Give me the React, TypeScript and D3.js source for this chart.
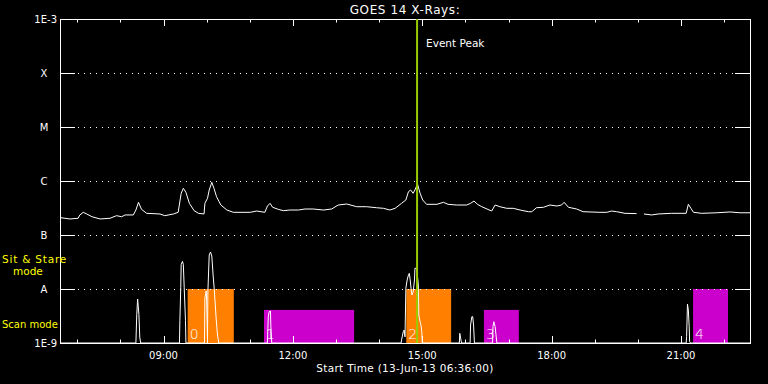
import React from "react";
import * as d3 from "d3";

// ---- data ----
const goesTime = [6.62, 6.83, 7.02, 7.06, 7.14, 7.22, 7.34, 7.53, 7.76, 7.91, 8.03, 8.11, 8.30, 8.36, 8.42, 8.49, 8.61, 8.92, 9.03, 9.23, 9.34, 9.41, 9.46, 9.52, 9.60, 9.71, 9.81, 9.94, 9.96, 10.02, 10.06, 10.12, 10.17, 10.23, 10.33, 10.47, 10.62, 11.01, 11.16, 11.35, 11.41, 11.47, 11.53, 11.66, 11.78, 11.93, 12.13, 12.28, 12.47, 12.71, 12.90, 13.05, 13.25, 13.48, 13.71, 13.94, 14.10, 14.25, 14.37, 14.52, 14.62, 14.68, 14.73, 14.79, 14.83, 14.89, 14.95, 15.01, 15.10, 15.34, 15.49, 15.60, 15.80, 16.03, 16.12, 16.20, 16.28, 16.38, 16.61, 16.69, 16.80, 16.96, 17.11, 17.27, 17.46, 17.54, 17.65, 17.81, 17.96, 18.12, 18.23, 18.29, 18.39, 18.58, 18.73, 19.12, 19.28, 19.39, 19.51, 19.70, 19.97, 20.05, 20.14, 20.32, 20.47, 20.78, 21.12, 21.17, 21.23, 21.29, 21.48, 21.83, 22.14, 22.37, 22.60];
const goesFlux: (number | null)[] = [2.09e-7, 1.98e-7, 2.04e-7, 2.35e-7, 2.63e-7, 2.45e-7, 2.18e-7, 1.98e-7, 2.04e-7, 2.28e-7, 2.18e-7, 2.35e-7, 2.35e-7, 2.90e-7, 4.03e-7, 2.99e-7, 2.52e-7, 2.45e-7, 2.28e-7, 2.45e-7, 2.63e-7, 5.92e-7, 7.32e-7, 6.18e-7, 3.86e-7, 2.82e-7, 2.52e-7, 2.45e-7, 3.86e-7, 4.78e-7, 6.81e-7, 9.46e-7, 7.32e-7, 5.12e-7, 3.59e-7, 2.90e-7, 2.63e-7, 2.63e-7, 2.78e-7, 2.63e-7, 3.44e-7, 3.86e-7, 3.26e-7, 2.99e-7, 2.82e-7, 2.90e-7, 2.90e-7, 3.03e-7, 3.03e-7, 2.90e-7, 3.03e-7, 3.59e-7, 3.75e-7, 3.34e-7, 3.34e-7, 3.20e-7, 3.12e-7, 2.90e-7, 3.12e-7, 3.86e-7, 4.45e-7, 6.34e-7, 6.81e-7, 5.92e-7, 6.81e-7, 8.80e-7, 5.92e-7, 4.45e-7, 3.70e-7, 3.70e-7, 4.03e-7, 3.70e-7, 3.59e-7, 3.59e-7, 3.86e-7, 4.26e-7, 3.70e-7, 3.34e-7, 2.78e-7, 3.59e-7, 3.34e-7, 3.12e-7, 3.12e-7, 2.90e-7, 2.70e-7, 2.70e-7, 3.20e-7, 3.26e-7, 3.59e-7, 3.44e-7, 3.59e-7, 4.03e-7, 3.26e-7, 3.03e-7, 2.70e-7, 2.63e-7, 2.63e-7, 2.78e-7, 2.70e-7, 2.52e-7, 2.49e-7, null, 2.45e-7, 2.35e-7, 2.45e-7, 2.52e-7, 2.52e-7, 3.70e-7, 3.12e-7, 2.63e-7, 2.52e-7, 2.58e-7, 2.67e-7, 2.58e-7, 2.58e-7];

const derivTime = [6.60, 8.36, 8.38, 8.40, 8.43, 8.45, 8.47, 9.37, 9.38, 9.40, 9.41, 9.44, 9.46, 9.48, 9.51, 9.52, 9.95, 9.96, 9.99, 10.00, 10.02, 10.03, 10.06, 10.09, 10.12, 10.15, 10.18, 10.22, 10.25, 10.28, 11.41, 11.42, 11.43, 11.45, 11.48, 11.49, 11.51, 14.51, 14.52, 14.56, 14.58, 14.60, 14.62, 14.65, 14.68, 14.70, 14.72, 14.74, 14.76, 14.79, 14.82, 14.83, 14.87, 14.91, 14.92, 14.95, 14.97, 14.99, 15.00, 15.86, 15.87, 15.89, 15.91, 16.11, 16.12, 16.15, 16.17, 16.19, 16.21, 16.63, 16.64, 16.66, 16.67, 16.69, 16.71, 16.73, 21.12, 21.13, 21.15, 21.17, 21.19, 21.20, 21.22, 22.60];
const derivValue = [1e-9, 1e-9, 3.34e-9, 6.53e-9, 3.34e-9, 1.29e-9, 1e-9, 1e-9, 2.59e-9, 1.07e-8, 2.82e-8, 3.26e-8, 2.82e-8, 1.07e-8, 2.59e-9, 1e-9, 1e-9, 6.81e-9, 9.18e-9, 6.25e-9, 1.14e-9, 9.18e-9, 4.26e-8, 4.84e-8, 4.08e-8, 1.82e-8, 9.18e-9, 2.90e-9, 1.47e-9, 1e-9, 1e-9, 1.87e-9, 3.07e-9, 3.80e-9, 3.91e-9, 2.00e-9, 1e-9, 1e-9, 1.14e-9, 1.62e-9, 1.74e-9, 1.3e-9, 1.03e-8, 1.47e-8, 1.82e-8, 1.95e-8, 1.47e-8, 1.03e-8, 7.74e-9, 8.91e-9, 1.47e-8, 2.42e-8, 2.42e-8, 1.19e-8, 3.30e-9, 2.48e-9, 2.15e-9, 1.62e-9, 1e-9, 1e-9, 1.51e-9, 1.24e-9, 1e-9, 1e-9, 2.15e-9, 3.07e-9, 3.07e-9, 2.15e-9, 1e-9, 1e-9, 2.00e-9, 2.48e-9, 2.32e-9, 2.00e-9, 1.41e-9, 1e-9, 1e-9, 1.31e-9, 5.27e-9, 4.08e-9, 2.00e-9, 1.06e-9, 1e-9, 1e-9];

const barStart = [9.56, 11.33, 14.63, 16.43, 21.28];
const barEnd = [10.63, 13.42, 15.67, 17.24, 22.09];
const barTop = [1e-8, 4.1e-9, 1e-8, 4.1e-9, 1e-8];
const barMode = ["stare", "scan", "stare", "scan", "scan"];
const barLabel = ["0", "1", "2", "3", "4"];

const yTickValues = [1e-9, 1e-8, 1e-7, 1e-6, 1e-5, 1e-4, 1e-3];
const yTickLabels = ["1E-9", "A", "B", "C", "M", "X", "1E-3"];
const xMajorHours = [9, 12, 15, 18, 21];
const xMajorLabels = ["09:00", "12:00", "15:00", "18:00", "21:00"];
const xMinorHours = [7, 8, 10, 11, 13, 14, 16, 17, 19, 20, 22];
const eventPeakHour = 14.88;

const title = "GOES 14 X-Rays:";
const xTitle = "Start Time (13-Jun-13 06:36:00)";

const W = 768, H = 384;
const L = 60, R = 750, T = 19, B = 343;
const FONT = "'DejaVu Sans', sans-serif";
const ORANGE = "#ff8000";
const MAGENTA = "#cc00cc";
const GREEN = "#99cc00";
const YELLOW = "#ffff00";

export default function App() {
  const x = d3.scaleLinear().domain([6.6, 22.6]).range([L, R]);
  const y = d3.scaleLog().domain([1e-9, 1e-3]).range([B, T]);

  const goesLine = d3
    .line<number>()
    .defined((i) => goesFlux[i] !== null)
    .x((i) => x(goesTime[i]))
    .y((i) => y(goesFlux[i] as number));
  const derivLine = d3
    .line<number>()
    .x((i) => x(derivTime[i]))
    .y((i) => y(Math.max(1e-9, derivValue[i])));

  const gridVals = yTickValues.slice(1, -1);
  const py = (v: number) => Math.round(y(v)) + 0.5;
  const px = (h: number) => Math.round(x(h)) + 0.5;

  return (
    <svg
      width={W}
      height={H}
      style={{ position: "fixed", left: 0, top: 0, background: "#000" }}
      fontFamily={FONT}
    >
      <rect x={0} y={0} width={W} height={H} fill="#000" />

      {/* bars */}
      {barStart.map((s, i) => (
        <rect
          key={"bar" + i}
          x={x(s)}
          y={y(barTop[i])}
          width={x(barEnd[i]) - x(s)}
          height={B - y(barTop[i])}
          fill={barMode[i] === "stare" ? ORANGE : MAGENTA}
        />
      ))}

      {/* dotted grid */}
      {gridVals.map((v, i) => (
        <line
          key={"g" + i}
          x1={L + 15}
          x2={R - 15}
          y1={py(v)}
          y2={py(v)}
          stroke="#fff"
          strokeWidth={1}
          strokeDasharray="1 5"
          strokeDashoffset={-3}
        />
      ))}

      {/* bar labels */}
      {barStart.map((s, i) => (
        <text
          key={"bl" + i}
          x={x(s) + 2}
          y={339}
          fill="#fff"
          fontWeight={200}
          fontSize={14}
        >
          {barLabel[i]}
        </text>
      ))}

      {/* curves */}
      <path
        d={derivLine(derivTime.map((_, i) => i)) || ""}
        fill="none"
        stroke="#fff"
        strokeWidth={1}
      />
      <path
        d={goesLine(goesTime.map((_, i) => i)) || ""}
        fill="none"
        stroke="#fff"
        strokeWidth={1}
      />

      {/* frame */}
      <rect x={L + 0.5} y={T + 0.5} width={R - L} height={B - T} fill="none" stroke="#fff" strokeWidth={1} />

      {/* y ticks */}
      {gridVals.map((v, i) => (
        <g key={"yt" + i}>
          <line x1={L} x2={L + 15} y1={py(v)} y2={py(v)} stroke="#fff" strokeWidth={1} />
          <line x1={R - 15} x2={R} y1={py(v)} y2={py(v)} stroke="#fff" strokeWidth={1} />
        </g>
      ))}
      {yTickValues.map((v, i) => {
        const lab = yTickLabels[i];
        const isNum = lab.length > 1;
        return (
          <text
            key={"yl" + i}
            x={isNum ? 57 : 44}
            y={y(v) + 4}
            fill="#fff"
            fontSize={10}
            textAnchor={isNum ? "end" : "middle"}
          >
            {lab}
          </text>
        );
      })}

      {/* x ticks */}
      {xMajorHours.map((h, i) => (
        <g key={"xM" + i}>
          <line x1={px(h)} x2={px(h)} y1={B} y2={B - 7} stroke="#fff" strokeWidth={1} />
          <line x1={px(h)} x2={px(h)} y1={T} y2={T + 7} stroke="#fff" strokeWidth={1} />
          <text x={x(h)} y={359} fill="#fff" fontSize={10} textAnchor="middle">
            {xMajorLabels[i]}
          </text>
        </g>
      ))}
      {xMinorHours.map((h, i) => (
        <g key={"xm" + i}>
          <line x1={px(h)} x2={px(h)} y1={B} y2={B - 3.5} stroke="#fff" strokeWidth={1} />
          <line x1={px(h)} x2={px(h)} y1={T} y2={T + 3.5} stroke="#fff" strokeWidth={1} />
        </g>
      ))}

      {/* event peak */}
      <line x1={x(eventPeakHour)} x2={x(eventPeakHour)} y1={T} y2={B} stroke={GREEN} strokeWidth={2} />
      <text x={x(eventPeakHour) + 9} y={47} fill="#fff" fontSize={10.5}>
        Event Peak
      </text>

      {/* titles */}
      <text x={(L + R) / 2} y={13.5} fill="#fff" fontSize={12} letterSpacing={0.6} textAnchor="middle">
        {title}
      </text>
      <text x={(L + R) / 2} y={372} fill="#fff" fontSize={10.5} letterSpacing={0.3} textAnchor="middle">
        {xTitle}
      </text>

      {/* mode labels */}
      <text x={2} y={263} fill={YELLOW} fontSize={10.5} letterSpacing={0.8}>Sit &amp; Stare</text>
      <text x={13} y={275} fill={YELLOW} fontSize={10.5}>mode</text>
      <text x={2} y={328} fill={YELLOW} fontSize={10}>Scan mode</text>
    </svg>
  );
}
